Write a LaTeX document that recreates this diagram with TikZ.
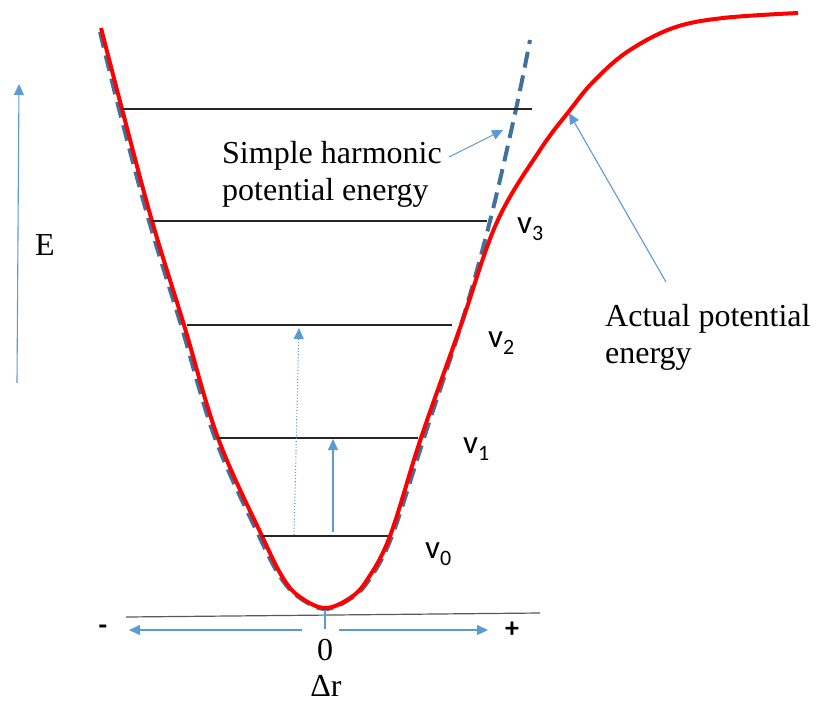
\documentclass[tikz,border=0pt]{standalone}
\usepackage{fontspec}
\setmainfont{Liberation Serif}
\newfontfamily\calibfont{Carlito}
\usetikzlibrary{arrows.meta}
\definecolor{redc}{HTML}{FF0000}
\definecolor{dashc}{HTML}{41719C}
\definecolor{arrc}{HTML}{5B9BD5}
\tikzset{
  lvl/.style={draw=black!85, line width=1.2pt},
  bluearr/.style={draw=arrc, line width=1.1pt, -{Triangle[length=11pt,width=10pt]}},
  sertext/.style={font=\fontsize{32}{37}\selectfont, inner sep=0pt},
  vlab/.style={font=\calibfont\fontsize{33}{36}\selectfont, inner sep=0pt, anchor=base west},
  actual/.style={draw=redc, line width=4pt, line join=round},
  harmonic/.style={draw=dashc, line width=4pt, dash pattern=on 16pt off 8pt},
}
\newcommand{\vsub}[1]{v\raisebox{-7pt}{\fontsize{22}{22}\selectfont #1}}
\begin{document}
\begin{tikzpicture}[x=1pt,y=-1pt]
\useasboundingbox (0,0) rectangle (819,702);

% harmonic (dashed) curve
\draw[harmonic] plot[smooth, tension=0.6] coordinates {
 (100,32) (119,109) (149,221) (181,325) (215,438) (259,536) (281,578)
 (300,598) (325,609) (350,599) (369,580) (392,536) (424,438) (461,325)
 (490,221) (516,109) (530,40)};

% actual (red) curve
\draw[actual] plot[smooth, tension=0.6] coordinates {
 (101,28) (122,109) (152,221) (184,325) (218,438) (262,536) (283,578)
 (300,597) (325,608) (350,598) (367,580) (390,536) (421,438)
 (461,325) (497,222) (540,150) (570,110) (593,82)
 (627,52) (673,28) (723,18) (798,13)};

% energy levels
\coordinate (l0a) at (262,536); \coordinate (l0b) at (388,536);
\coordinate (l1a) at (218,438); \coordinate (l1b) at (418,438);
\coordinate (l2a) at (187,325); \coordinate (l2b) at (452,325);
\coordinate (l3a) at (152,221); \coordinate (l3b) at (487,221);
\coordinate (l4a) at (122,109); \coordinate (l4b) at (532,109);
\draw[lvl] (l0a) -- (l0b);
\draw[lvl] (l1a) -- (l1b);
\draw[lvl] (l2a) -- (l2b);
\draw[lvl] (l3a) -- (l3b);
\draw[lvl] (l4a) -- (l4b);

% baseline
\coordinate (ba) at (126,617); \coordinate (bb) at (540,613);
\draw[draw=black!65, line width=1.2pt] (ba) -- (bb);

% transitions
\coordinate (t1a) at (333,532); \coordinate (t1b) at (333,439);
\coordinate (t2a) at (294,535); \coordinate (t2b) at (299,328);
\draw[bluearr] (t1a) -- (t1b);
\draw[bluearr, dotted] (t2a) -- (t2b);

% E axis
\coordinate (ea) at (17,383); \coordinate (eb) at (19,84);
\draw[bluearr] (ea) -- (eb);
\node[sertext] (E) at (45,245) {E};

% Delta r axis
\coordinate (xa) at (302,630); \coordinate (xl) at (129,630);
\coordinate (xb) at (339,630); \coordinate (xr) at (488,630);
\coordinate (tka) at (325,610); \coordinate (tkb) at (325,629);
\draw[bluearr] (xa) -- (xl);
\draw[bluearr] (xb) -- (xr);
\draw[draw=arrc, line width=1.1pt] (tka) -- (tkb);
\node[font=\calibfont\bfseries\fontsize{28}{30}\selectfont, inner sep=0pt] (minus) at (103,630) {-};
\node[font=\calibfont\bfseries\fontsize{28}{30}\selectfont, inner sep=0pt] (plus) at (512,630) {+};
\node[sertext] (zero) at (325,650) {0};
\node[sertext] (dr) at (326,686) {Δr};

% level labels
\node[vlab] (v0) at (425,558) {\vsub{0}};
\node[vlab] (v1) at (463,453) {\vsub{1}};
\node[vlab] (v2) at (488,347) {\vsub{2}};
\node[vlab] (v3) at (517,233) {\vsub{3}};

% annotations
\node[sertext, align=left, anchor=north west] (sh) at (222,141) {Simple harmonic\\potential energy};
\coordinate (sht) at (449,157); \coordinate (shh) at (503,130);
\draw[bluearr] (sht) -- (shh);

\node[sertext, align=left, anchor=north west] (ap) at (605,304) {Actual potential\\energy};
\coordinate (apt) at (666,282); \coordinate (aph) at (569,113);
\draw[bluearr] (apt) -- (aph);
\end{tikzpicture}
\end{document}
